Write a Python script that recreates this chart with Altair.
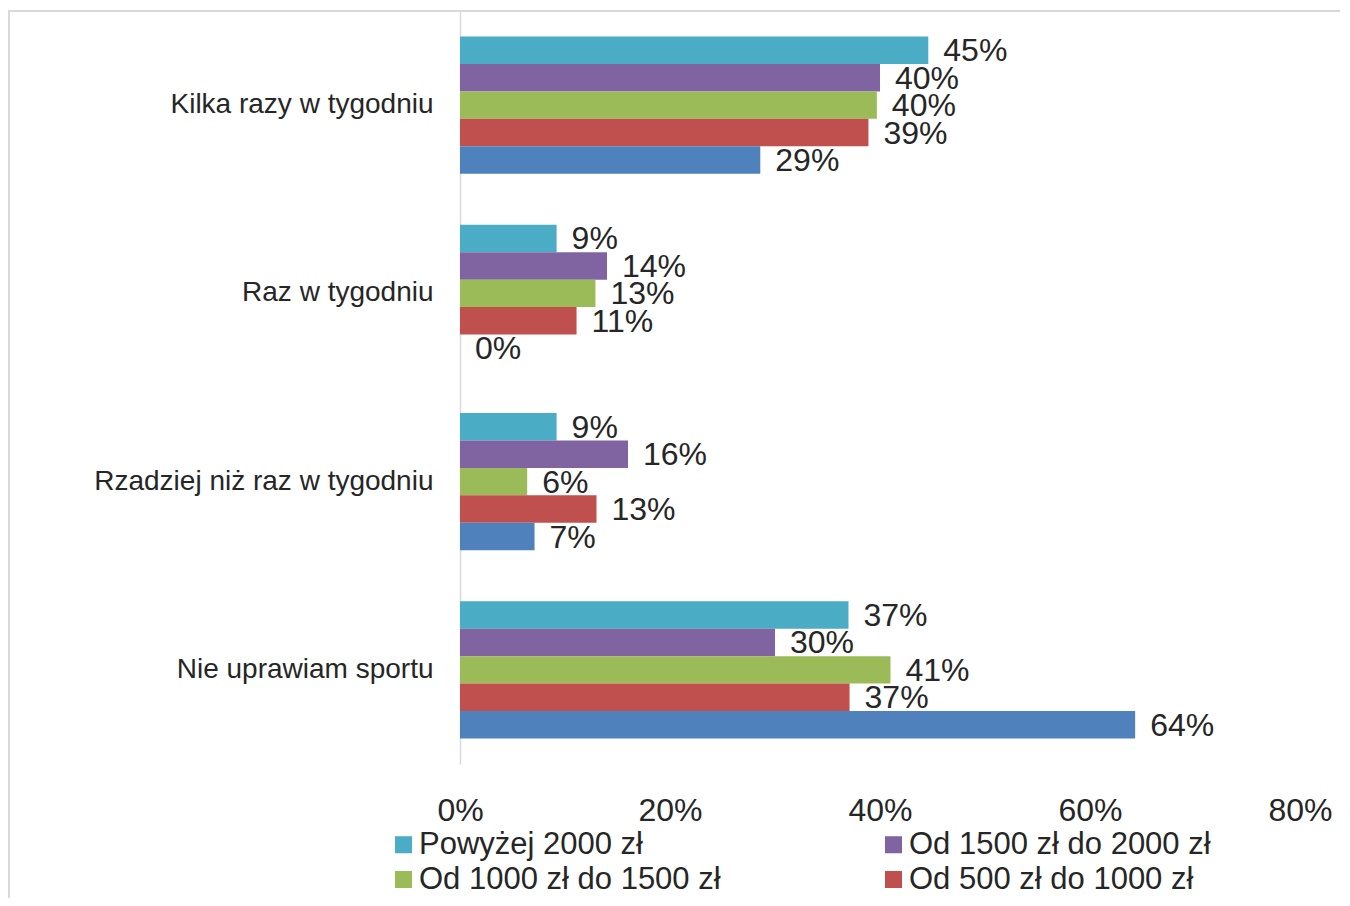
import altair as alt
import pandas as pd

categories = ["Kilka razy w tygodniu", "Raz w tygodniu", "Rzadziej niż raz w tygodniu", "Nie uprawiam sportu"]
series = ["Powyżej 2000 zł", "Od 1500 zł do 2000 zł", "Od 1000 zł do 1500 zł", "Od 500 zł do 1000 zł", "Poniżej 500 zł"]
colors = ["#4BACC6", "#8064A2", "#9BBB59", "#C0504D", "#4F81BD"]
legend_entries = ["Powyżej 2000 zł", "Od 1000 zł do 1500 zł", "Od 1500 zł do 2000 zł", "Od 500 zł do 1000 zł"]

# values per series, in the order of categories (fractions)
powyzej_2000 = [0.446, 0.092, 0.092, 0.370]
od_1500_2000 = [0.400, 0.140, 0.160, 0.300]
od_1000_1500 = [0.397, 0.129, 0.064, 0.410]
od_500_1000 = [0.389, 0.111, 0.130, 0.371]
ponizej_500 = [0.286, 0.000, 0.071, 0.643]

x_ticks = [0, 0.2, 0.4, 0.6, 0.8]

rows = []
for name, vals in zip(series, [powyzej_2000, od_1500_2000, od_1000_1500, od_500_1000, ponizej_500]):
    for cat, v in zip(categories, vals):
        rows.append({"kategoria": cat, "seria": name, "wartosc": v})
df = pd.DataFrame(rows)

FONT = "Liberation Sans"
TXT = "#262626"

y_enc = alt.Y("kategoria:N", sort=categories, title=None,
              scale=alt.Scale(paddingInner=0.27, paddingOuter=0.135),
              axis=alt.Axis(domainColor="#d9d9d9", domainWidth=1.5, ticks=False,
                            labelPadding=27, labelFontSize=28, labelColor=TXT,
                            labelFont=FONT, labelLimit=500))
x_enc = alt.X("wartosc:Q", title=None,
              scale=alt.Scale(domain=[0, 0.8], nice=False),
              axis=alt.Axis(values=x_ticks, format=".0%", domain=False, ticks=False,
                            grid=False, labelPadding=31, labelFontSize=32,
                            labelFlush=False, labelOverlap=False,
                            labelColor=TXT, labelFont=FONT))
yoff = alt.YOffset("seria:N", sort=series, scale=alt.Scale(domain=series, paddingInner=0, paddingOuter=0))
color = alt.Color("seria:N", scale=alt.Scale(domain=series, range=colors),
                  legend=alt.Legend(values=legend_entries, title=None, orient="none",
                                    legendX=-72, legendY=818, columns=2,
                                    columnPadding=157, rowPadding=3,
                                    symbolType="square", symbolSize=290,
                                    symbolStrokeWidth=0, symbolOffset=0,
                                    labelFontSize=31, labelFont=FONT, labelColor=TXT,
                                    labelOffset=0, labelLimit=500))

bars = alt.Chart(df).mark_bar().encode(y=y_enc, x=x_enc, yOffset=yoff, color=color)
labels = alt.Chart(df).mark_text(align="left", baseline="middle", dx=15, dy=1,
                                 fontSize=32, font=FONT, color=TXT).encode(
    y=alt.Y("kategoria:N", sort=categories), x="wartosc:Q", yOffset=yoff,
    text=alt.Text("wartosc:Q", format=".0%"))

border = alt.Chart(pd.DataFrame({"a": [0]})).mark_rect(
    fillOpacity=0, stroke="#d9d9d9", strokeWidth=2, clip=False).encode(
    x=alt.value(-451), x2=alt.value(889), y=alt.value(0), y2=alt.value(920))

chart = alt.layer(border, bars, labels).properties(
    width=840, height=753,
    autosize=alt.AutoSizeParams(type="none"),
    padding={"left": 452, "top": 3, "right": 40, "bottom": 134},
    background="white",
).configure_view(stroke=None)

chart.save("out.html", embed_options={"renderer": "svg", "actions": False})
